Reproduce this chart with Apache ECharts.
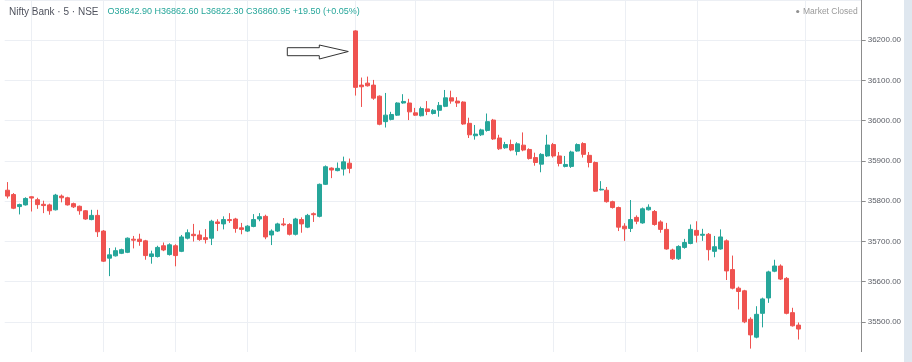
<!DOCTYPE html>
<html>
<head>
<meta charset="utf-8">
<script src="https://cdn.jsdelivr.net/npm/echarts@6/dist/echarts.min.js"></script>
<style>
  html, body { margin: 0; padding: 0; background: #ffffff; }
  #chart { width: 912px; height: 362px; }
</style>
</head>
<body>
<div id="chart"></div>
<script>
// ---- Data ----
const titleText = 'Nifty Bank · 5 · NSE';
const ohlcText = 'O36842.90 H36862.60 L36822.30 C36860.95 +19.50 (+0.05%)';
const statusText = 'Market Closed';

const opens = [
  35827.1, 35816.3, 35786.4, 35790.6, 35810.8, 35803.5, 35792.1, 35790.6, 35778.4, 35812.5,
  35808.3, 35793.7, 35787.2, 35776.0, 35754.1, 35764.5, 35725.5, 35658.1, 35663.9, 35670.2,
  35672.7, 35705.3, 35705.3, 35701.2, 35662.2, 35662.2, 35689.0, 35667.1, 35689.0, 35675.1,
  35707.8, 35717.5, 35715.8, 35709.2, 35707.8, 35748.2, 35743.3, 35754.1, 35755.5, 35733.6,
  35725.5, 35737.0, 35755.5, 35762.1, 35715.8, 35725.5, 35743.3, 35741.9, 35717.5, 35754.1,
  35735.3, 35768.7, 35762.1, 35841.7, 35882.1, 35875.8, 35879.7, 35894.3,
  36223.1, 36088.4, 36093.3, 36088.4, 36060.9, 35997.6, 36003.2, 36013.7, 36043.9, 36043.9,
  36019.5, 36012.2, 36029.2, 36017.8, 36025.8, 36035.6, 36056.8, 36048.7, 36046.3, 35993.4,
  35962.5, 35964.9, 35975.7, 36001.5, 35956.9, 35932.6, 35940.6, 35923.5, 35939.1, 35928.4,
  35908.2, 35891.9, 35912.3, 35940.6, 35912.3, 35886.3, 35886.3, 35924.5, 35943.0, 35913.8,
  35896.0, 35827.8, 35827.1, 35798.6, 35784.0, 35737.7, 35732.1, 35759.6, 35745.8, 35778.4,
  35774.2, 35748.2, 35729.7, 35678.5, 35656.6, 35684.9, 35694.6, 35727.2, 35715.1, 35717.5,
  35675.1, 35681.0, 35701.2, 35629.8, 35583.5, 35577.0, 35506.3, 35461.8, 35521.0, 35559.2,
  35625.7, 35638.6, 35607.9, 35522.7, 35491.7
];
const closes = [
  35812.5, 35782.3, 35791.3, 35806.6, 35807.6, 35791.3, 35788.9, 35776.0, 35814.9, 35808.3,
  35790.6, 35785.7, 35776.0, 35755.5, 35764.5, 35723.8, 35650.7, 35666.4, 35676.8, 35679.3,
  35707.8, 35702.9, 35699.5, 35664.6, 35668.8, 35684.9, 35678.5, 35691.4, 35664.6, 35710.9,
  35721.4, 35714.1, 35704.4, 35704.4, 35749.9, 35744.3, 35754.1, 35751.6, 35732.1, 35729.7,
  35737.7, 35754.1, 35761.3, 35710.9, 35725.5, 35743.3, 35740.9, 35717.5, 35755.5, 35743.3,
  35764.5, 35766.2, 35841.7, 35885.5, 35877.3, 35881.4, 35897.7, 35881.4,
  36082.8, 36084.3, 36086.7, 36056.0, 35991.0, 36013.7, 36015.4, 36043.9, 36047.8, 36021.9,
  36013.7, 36030.0, 36022.7, 36025.8, 36038.0, 36056.8, 36048.7, 36043.9, 35991.7, 35964.9,
  35966.6, 35977.1, 35997.6, 35954.5, 35930.1, 35940.6, 35927.0, 35942.3, 35927.0, 35905.8,
  35896.0, 35916.2, 35939.4, 35912.3, 35893.6, 35891.1, 35922.1, 35940.6, 35916.2, 35896.0,
  35824.7, 35829.5, 35798.6, 35784.0, 35735.3, 35731.1, 35754.1, 35749.9, 35780.8, 35784.7,
  35741.9, 35729.7, 35681.0, 35656.6, 35687.3, 35697.1, 35729.7, 35715.1, 35717.5, 35679.3,
  35686.6, 35710.9, 35626.4, 35583.5, 35575.3, 35499.8, 35467.4, 35518.5, 35556.8, 35624.0,
  35638.6, 35606.2, 35521.0, 35490.0, 35482.0
];
const lows = [
  35806.6, 35780.0, 35766.9, 35788.9, 35774.2, 35780.8, 35770.1, 35766.2, 35776.7, 35797.0,
  35788.9, 35782.8, 35766.2, 35753.6, 35752.4, 35710.9, 35648.8, 35613.5, 35662.2, 35668.3,
  35670.7, 35682.4, 35689.0, 35654.2, 35644.4, 35659.8, 35675.6, 35664.6, 35637.9, 35673.2,
  35704.8, 35699.5, 35701.2, 35694.6, 35690.7, 35725.5, 35729.7, 35745.8, 35721.4, 35717.5,
  35723.1, 35735.0, 35749.9, 35705.3, 35690.7, 35723.1, 35737.7, 35714.6, 35714.6, 35721.4,
  35732.8, 35748.2, 35759.6, 35840.0, 35857.1, 35874.1, 35863.6, 35869.2,
  36062.4, 36034.1, 36084.8, 36051.9, 35988.6, 35983.0, 36000.7, 36011.7, 36042.2, 36001.5,
  36011.7, 36010.5, 36013.7, 36015.4, 36009.8, 36033.6, 36042.2, 36034.1, 35989.8, 35956.9,
  35952.8, 35961.8, 35972.7, 35952.1, 35927.0, 35930.1, 35924.0, 35913.8, 35924.0, 35903.3,
  35888.0, 35871.7, 35909.9, 35908.2, 35886.3, 35883.8, 35882.6, 35922.8, 35908.2, 35883.8,
  35822.9, 35826.6, 35796.2, 35781.5, 35725.5, 35701.2, 35723.1, 35742.6, 35743.8, 35776.7,
  35738.9, 35721.4, 35679.3, 35653.7, 35653.7, 35681.7, 35692.7, 35697.1, 35701.2, 35652.5,
  35660.5, 35679.3, 35603.8, 35580.6, 35530.7, 35496.6, 35433.3, 35458.9, 35486.1, 35547.0,
  35623.3, 35603.8, 35518.5, 35488.1, 35455.9
];
const highs = [
  35847.3, 35820.0, 35793.7, 35809.5, 35812.0, 35808.3, 35801.0, 35793.7, 35818.0, 35816.4,
  35810.8, 35796.2, 35788.9, 35777.9, 35778.4, 35778.4, 35728.0, 35683.4, 35684.9, 35681.7,
  35709.7, 35713.4, 35718.9, 35703.6, 35676.8, 35689.0, 35697.1, 35695.1, 35692.7, 35715.8,
  35729.7, 35743.3, 35727.2, 35730.4, 35753.6, 35754.8, 35762.1, 35770.1, 35758.4, 35745.8,
  35740.2, 35767.7, 35770.1, 35766.2, 35729.7, 35746.2, 35758.0, 35745.0, 35758.4, 35759.6,
  35768.2, 35771.8, 35843.7, 35888.7, 35883.8, 35896.0, 35910.6, 35905.8,
  36224.8, 36107.2, 36109.6, 36101.3, 36062.8, 36068.9, 36022.0, 36045.8, 36065.8, 36054.3,
  36031.7, 36034.9, 36048.7, 36028.8, 36046.3, 36076.3, 36074.5, 36058.5, 36048.2, 36007.3,
  35989.3, 35980.0, 36017.8, 36004.4, 35964.9, 35947.2, 35952.8, 35946.4, 35970.8, 35931.3,
  35920.4, 35919.2, 35965.0, 35944.7, 35922.1, 35912.3, 35925.3, 35943.5, 35946.4, 35922.1,
  35898.5, 35849.7, 35835.1, 35801.0, 35786.4, 35745.0, 35802.7, 35764.5, 35784.0, 35792.0,
  35777.9, 35752.3, 35745.8, 35681.7, 35690.2, 35706.1, 35741.9, 35749.9, 35731.1, 35720.7,
  35713.4, 35729.7, 35704.8, 35664.6, 35587.4, 35579.4, 35511.2, 35538.7, 35560.0, 35626.9,
  35654.2, 35642.7, 35611.1, 35534.8, 35498.3
];

// Price axis tick values (labels shown with two decimals)
const yTicks = [35500, 35600, 35700, 35800, 35900, 36000, 36100, 36200];

// Time categories: day 1 from 10:40, day 2 full session, start of day 3 (empty)
const sessions = [
  { day: 'D1', start: '10:40', count: 58 },
  { day: 'D2', start: '09:15', count: 75 },
  { day: 'D3', start: '09:15', count: 10 }
];
// Vertical grid lines (time labels of the chart's time scale)
const gridTimes = ['D1 11:00', 'D1 12:00', 'D1 13:00', 'D1 14:00', 'D2 09:15',
                   'D2 10:05', 'D2 12:00', 'D2 13:00', 'D2 14:00', 'D3 09:15'];

// ---- Build ----
const categories = [];
sessions.forEach(s => {
  let [h, m] = s.start.split(':').map(Number);
  for (let k = 0; k < s.count; k++) {
    categories.push(s.day + ' ' + String(h).padStart(2, '0') + ':' + String(m).padStart(2, '0'));
    m += 5; if (m >= 60) { m -= 60; h += 1; }
  }
});
const candles = opens.map((o, i) => [o, closes[i], lows[i], highs[i]]);

const UP = '#26a69a', DOWN = '#ef5350';
const GRID = '#eceff4';
const FONT = '"Liberation Sans", Arial, sans-serif';

const chart = echarts.init(document.getElementById('chart'), null, { renderer: 'canvas' });
chart.setOption({
  animation: false,
  backgroundColor: '#ffffff',
  grid: { left: 4.7, top: -5.87, width: 857, height: 369.6, containLabel: false },
  xAxis: {
    type: 'category',
    data: categories,
    boundaryGap: true,
    axisLine: { show: false },
    axisTick: { show: false },
    axisLabel: { show: false },
    splitLine: { show: false }
  },
  yAxis: {
    type: 'value',
    position: 'right',
    min: 35400,
    max: 36300,
    interval: 100,
    axisLine: { show: true, lineStyle: { color: '#8c8c8c', width: 1 } },
    axisTick: { show: true, length: 4, lineStyle: { color: '#8c8c8c' } },
    axisLabel: {
      margin: 6, fontSize: 8, color: '#5d6068', fontFamily: FONT,
      showMinLabel: false, showMaxLabel: false,
      formatter: v => (yTicks.indexOf(v) >= 0 ? v.toFixed(2) : '')
    },
    splitLine: { show: true, lineStyle: { color: GRID, width: 1 } }
  },
  series: [
    {
      type: 'line',
      data: [],
      z: 1,
      silent: true,
      markLine: {
        z: 1,
        silent: true,
        animation: false,
        symbol: ['none', 'none'],
        label: { show: false },
        lineStyle: { color: GRID, width: 1, type: 'solid' },
        data: gridTimes.map(t => ({ xAxis: t }))
      }
    },
    {
      type: 'candlestick',
      data: candles,
      z: 3,
      barWidth: 4.5,
      itemStyle: {
        color: UP, color0: DOWN,
        borderColor: UP, borderColor0: DOWN,
        borderWidth: 1
      }
    }
  ],
  graphic: [
    { type: 'rect', z: 100, shape: { x: 0, y: 352, width: 904, height: 10 }, style: { fill: '#ffffff' } },
    { type: 'rect', z: 100, shape: { x: 904, y: 0, width: 8, height: 362 }, style: { fill: '#dfe7ef' } },
    { type: 'text', z: 100, x: 9, y: 12, style: { text: titleText, font: '10px ' + FONT, fill: '#50535e', verticalAlign: 'middle' } },
    { type: 'text', z: 100, x: 107.5, y: 12, style: { text: ohlcText, font: '9px ' + FONT, fill: '#26a69a', verticalAlign: 'middle' } },
    { type: 'circle', z: 100, shape: { cx: 797.7, cy: 11.5, r: 1.6 }, style: { fill: '#8f8f8f' } },
    { type: 'text', z: 100, x: 803, y: 11.5, style: { text: statusText, font: '8.5px ' + FONT, fill: '#999999', verticalAlign: 'middle' } },
    {
      type: 'polygon', z: 100,
      shape: { points: [[287.3, 47.7], [319.3, 47.7], [319.3, 45], [348.3, 51.5], [319.3, 59], [319.3, 55.7], [287.3, 55.7]] },
      style: { fill: '#ffffff', stroke: '#333333', lineWidth: 1 }
    }
  ]
});
</script>
</body>
</html>
